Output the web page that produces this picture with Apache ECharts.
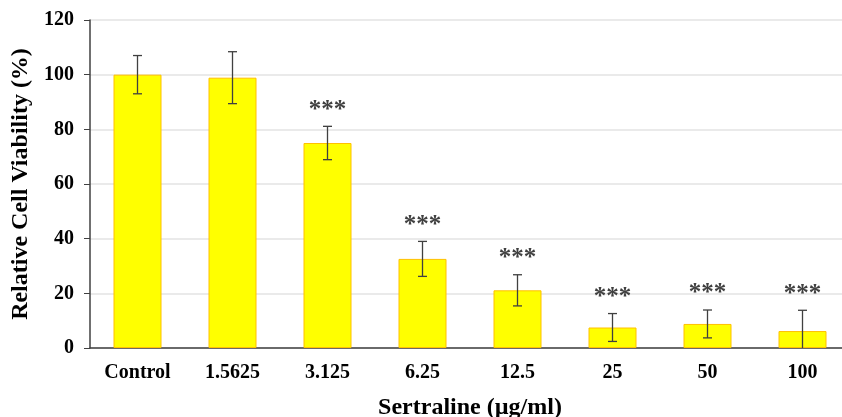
<!DOCTYPE html>
<html>
<head>
<meta charset="utf-8">
<script src="https://cdn.jsdelivr.net/npm/echarts@6/dist/echarts.min.js"></script>
<style>
  html, body { margin: 0; padding: 0; background: #fff; }
  #chart { width: 842px; height: 417px; }
</style>
</head>
<body>
<div id="chart"></div>
<script>
/** concentrations (µg/ml) */
const categories = ["Control", "1.5625", "3.125", "6.25", "12.5", "25", "50", "100"];
/** mean viability (%) */
const means = [100, 98.9, 75, 32.6, 21.1, 7.5, 8.8, 6.2];
/** error bar half-widths (%) */
const errors = [7, 9.5, 6.1, 6.4, 5.7, 5.1, 5.1, 7.6];
/** significance marks */
const marks = ["", "", "***", "***", "***", "***", "***", "***"];
/** y axis ticks */
const yTicks = [0, 20, 40, 60, 80, 100, 120];

const serif = "'Liberation Serif', 'Times New Roman', serif";
const dark = "#404040";

const chart = echarts.init(document.getElementById("chart"), undefined, { renderer: "canvas" });

/** error bar data: [index, low, high, mark] */
const errorData = means.map((m, i) => [i, Math.max(0, m - errors[i]), m + errors[i], marks[i]]);

const option = {
  animation: false,
  grid: { left: 90, right: -8, top: 20, bottom: 69, outerBoundsMode: "none", containLabel: false },
  xAxis: {
    type: "category",
    data: categories,
    axisLine: { lineStyle: { color: dark, width: 1.5 } },
    axisTick: { alignWithLabel: true, length: 6, lineStyle: { color: dark } },
    axisLabel: {
      color: "#000",
      fontFamily: serif,
      fontWeight: "bold",
      fontSize: 20,
      margin: 15,
    },
    name: "Sertraline (µg/ml)",
    nameLocation: "middle",
    nameGap: 48,
    nameTextStyle: { color: "#000", fontFamily: serif, fontWeight: "bold", fontSize: 24 },
  },
  yAxis: {
    type: "value",
    min: yTicks[0],
    max: yTicks[yTicks.length - 1],
    interval: yTicks[1] - yTicks[0],
    axisLine: { show: true, lineStyle: { color: dark, width: 1.5 } },
    axisTick: { show: true, length: 6, lineStyle: { color: dark } },
    splitLine: { lineStyle: { color: "#e3e3e3", width: 1.5 } },
    axisLabel: {
      color: "#000",
      fontFamily: serif,
      fontWeight: "bold",
      fontSize: 20,
      margin: 16,
    },
    name: "Relative Cell Viability (%)",
    nameLocation: "middle",
    nameGap: 54,
    nameTextStyle: { color: "#000", fontFamily: serif, fontWeight: "bold", fontSize: 24 },
  },
  series: [
    {
      type: "bar",
      data: means,
      barWidth: 48,
      itemStyle: { color: "#ffff00", borderColor: "#ffc000", borderWidth: 1 },
    },
    {
      type: "custom",
      data: errorData,
      z: 5,
      renderItem: (params, api) => {
        const x = api.value(0);
        const lo = api.coord([x, api.value(1)]);
        const hi = api.coord([x, api.value(2)]);
        const cap = 4.5;
        const line = { stroke: dark, lineWidth: 1.3 };
        const children = [
          { type: "line", shape: { x1: lo[0], y1: lo[1], x2: hi[0], y2: hi[1] }, style: line },
          { type: "line", shape: { x1: hi[0] - cap, y1: hi[1], x2: hi[0] + cap, y2: hi[1] }, style: line },
        ];
        if (api.value(1) > 0) {
          children.push({ type: "line", shape: { x1: lo[0] - cap, y1: lo[1], x2: lo[0] + cap, y2: lo[1] }, style: line });
        }
        const mark = errorData[params.dataIndex][3];
        if (mark) {
          children.push({
            type: "text",
            style: {
              text: mark,
              x: hi[0],
              y: hi[1] - 16,
              align: "center",
              verticalAlign: "middle",
              fill: dark,
              fontFamily: serif,
              fontWeight: "bold",
              fontSize: 25,
            },
          });
        }
        return { type: "group", children };
      },
    },
  ],
};

chart.setOption(option);
</script>
</body>
</html>
